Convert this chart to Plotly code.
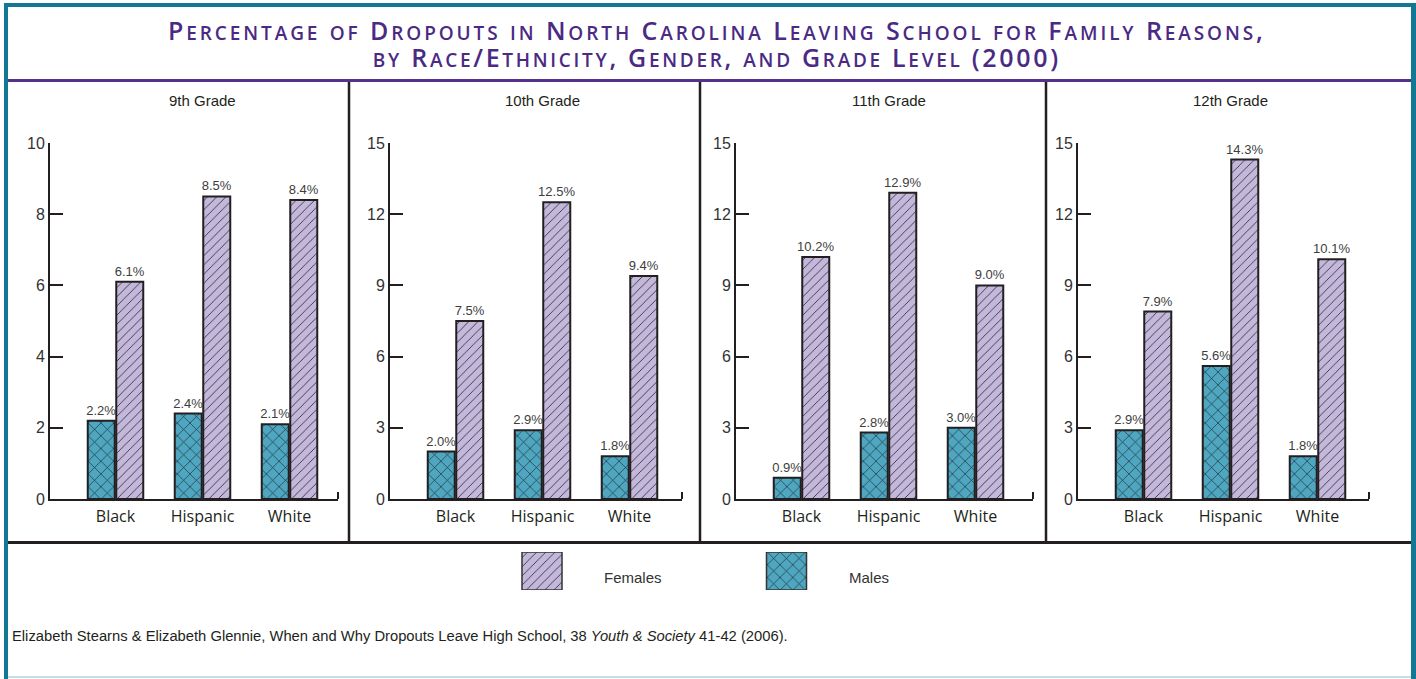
import plotly.graph_objects as go

# ---------------- data ----------------
title_line1 = "Percentage of Dropouts in North Carolina Leaving School for Family Reasons,"
title_line2 = "by Race/Ethnicity, Gender, and Grade Level (2000)"
grades = ["9th Grade", "10th Grade", "11th Grade", "12th Grade"]
groups = ["Black", "Hispanic", "White"]
series_names = ["Males", "Females"]
legend_order = ["Females", "Males"]

males_9th = [2.2, 2.4, 2.1]
females_9th = [6.1, 8.5, 8.4]
males_10th = [2.0, 2.9, 1.8]
females_10th = [7.5, 12.5, 9.4]
males_11th = [0.9, 2.8, 3.0]
females_11th = [10.2, 12.9, 9.0]
males_12th = [2.9, 5.6, 1.8]
females_12th = [7.9, 14.3, 10.1]

y_max = [10, 15, 15, 15]
y_step = [2, 3, 3, 3]

source_note = ("Elizabeth Stearns &amp; Elizabeth Glennie, When and Why Dropouts Leave High School, "
               "38 <i>Youth &amp; Society</i> 41-42 (2006).")

males = [males_9th, males_10th, males_11th, males_12th]
females = [females_9th, females_10th, females_11th, females_12th]

# ---------------- layout constants ----------------
W, H = 1416, 679
def px(x): return x / W
def py(y): return 1 - y / H

axis_left = [50, 390, 736, 1078]
axis_right = [338, 682, 1033, 1369]
unit = 87.0          # px per category
first_off = 65.5     # px from axis start to first category centre
plot_top, plot_bottom = 143, 499

DARK = "#231f20"
TEAL = "#4ea6c0"
LAV = "#c3b8da"
BORDER = "#137893"
PURPLE = "#55308d"

styles = {
    "Males": dict(color=TEAL, pattern=dict(shape="x", bgcolor=TEAL, fgcolor="#1f2a30",
                                           size=9, solidity=0.14, fillmode="replace")),
    "Females": dict(color=LAV, pattern=dict(shape="/", bgcolor=LAV, fgcolor="#3b3448",
                                            size=6.5, solidity=0.14, fillmode="replace")),
}

fig = go.Figure()
layout = dict(
    width=W, height=H, autosize=False,
    margin=dict(l=0, r=0, t=0, b=0, pad=0),
    paper_bgcolor="white", plot_bgcolor="rgba(0,0,0,0)",
    barmode="group", bargap=1 - 57 / unit, bargroupgap=1 - 27 / 28.5,
    showlegend=False,
)

annotations = []
shapes = []

for i, grade in enumerate(grades):
    sfx = "" if i == 0 else str(i + 1)
    xa, ya = "x" + sfx, "y" + sfx
    xs = list(range(len(groups)))
    for name, vals in zip(series_names, [males[i], females[i]]):
        fig.add_trace(go.Bar(
            x=xs, y=vals, name=name, xaxis=xa, yaxis=ya,
            marker=dict(color=styles[name]["color"], pattern=styles[name]["pattern"],
                        line=dict(color=DARK, width=2)),
            texttemplate="%{y:.1f}%", textposition="outside",
            outsidetextfont=dict(family="Liberation Sans", size=13, color="#3d3d3d"),
            constraintext="none", cliponaxis=False, hoverinfo="skip",
        ))
    w = axis_right[i] - axis_left[i]
    r0 = -first_off / unit
    r1 = (w - first_off) / unit
    layout["xaxis" + sfx] = dict(
        domain=[px(axis_left[i]), px(axis_right[i])], range=[r0, r1],
        anchor=ya, showline=True, linecolor=DARK, linewidth=2, automargin=False,
        showgrid=False, zeroline=False, ticks="", ticklabelstandoff=2,
        tickvals=xs, ticktext=groups,
        tickfont=dict(family="Open Sans", size=16, color=DARK),
        minor=dict(tickvals=[r1 - 0.004], ticks="inside", ticklen=7, tickwidth=2, tickcolor=DARK),
        fixedrange=True,
    )
    layout["yaxis" + sfx] = dict(
        domain=[py(plot_bottom), py(plot_top)], range=[0, y_max[i]],
        anchor=xa, showline=True, linecolor=DARK, linewidth=2, automargin=False,
        showgrid=False, zeroline=False,
        tickvals=list(range(0, y_max[i] + 1, y_step[i])),
        ticks="inside", ticklen=13, tickwidth=2, tickcolor=DARK,
        tickfont=dict(family="Liberation Sans", size=16, color="#333333"),
        fixedrange=True,
    )
    annotations.append(dict(
        text=grade, xref=xa, yref="paper", x=1, y=py(100),
        xanchor="center", yanchor="middle", showarrow=False,
        font=dict(family="Liberation Sans", size=15, color=DARK),
    ))

# ---------------- legend (drawn as bars on a hidden axis) ----------------
leg_c0, leg_unit, leg_w = 542, 244.5, 40
leg_l, leg_r = 500, 900
layout["xaxis5"] = dict(domain=[px(leg_l), px(leg_r)],
                        range=[(leg_l - leg_c0) / leg_unit, (leg_r - leg_c0) / leg_unit],
                        visible=False, anchor="y5", fixedrange=True, automargin=False)
layout["yaxis5"] = dict(domain=[py(590), py(552)], range=[0, 1], visible=False,
                        anchor="x5", fixedrange=True, automargin=False)
for j, name in enumerate(legend_order):
    fig.add_trace(go.Bar(
        x=[j], y=[1], xaxis="x5", yaxis="y5", name=name,
        width=leg_w / leg_unit, offset=-leg_w / leg_unit / 2,
        marker=dict(color=styles[name]["color"], pattern=styles[name]["pattern"],
                    line=dict(color="#333333", width=1.5)),
        hoverinfo="skip",
    ))
    annotations.append(dict(
        text=name, xref="x5", yref="paper", x=j, xshift=60, y=py(577),
        xanchor="left", yanchor="middle", showarrow=False,
        font=dict(family="Liberation Sans", size=15, color="#333333"),
    ))

# ---------------- title (small caps, one text block) ----------------
def small_caps(s, big, small, track):
    out, run, cur = [], "", None
    def flush(r, low):
        if not r:
            return ""
        size = small if low else big
        return (f'<span style="font-size:{size}px;letter-spacing:{track}px;'
                f'font-weight:600">{r.upper()}</span>')
    for ch in s:
        low = ch.islower()
        if cur is None:
            cur = low
        if low != cur:
            out.append(flush(run, cur))
            run, cur = "", low
        run += ch
    out.append(flush(run, cur))
    return "".join(out)

annotations.append(dict(
    text=small_caps(title_line1, 25, 19, 2.9) + "<br>" + small_caps(title_line2, 25, 19, 2.7),
    xref="paper", yref="paper", x=px(717), y=py(43), xanchor="center", yanchor="middle",
    align="center", showarrow=False,
    font=dict(family="Open Sans", size=21, color="#4b2a84"),
))

annotations.append(dict(
    text=source_note, xref="paper", yref="paper", x=px(10), y=py(636),
    xanchor="left", yanchor="middle", showarrow=False,
    font=dict(family="Liberation Sans", size=14.75, color=DARK),
))

# ---------------- frame & rules ----------------
def rect(x0, y0, x1, y1, color):
    return dict(type="rect", xref="paper", yref="paper", x0=px(x0), x1=px(x1),
                y0=py(y1), y1=py(y0), fillcolor=color, line=dict(width=0), layer="above")
def hline(y, x0, x1, color, w):
    return dict(type="line", xref="paper", yref="paper", x0=px(x0), x1=px(x1),
                y0=py(y), y1=py(y), line=dict(color=color, width=w))
def vline(x, y0, y1, color, w):
    return dict(type="line", xref="paper", yref="paper", x0=px(x), x1=px(x),
                y0=py(y0), y1=py(y1), line=dict(color=color, width=w))

shapes += [
    rect(4, 3, 8, 679, BORDER),
    rect(4, 3, 1416, 7, BORDER),
    rect(1411, 3, 1416, 679, BORDER),
    rect(8, 676, 1411, 678, "#bfe0ea"),
    hline(80.5, 8, 1411, PURPLE, 3),
    hline(542.5, 8, 1411, DARK, 3),
    vline(349, 82, 542, DARK, 2.5),
    vline(700, 82, 542, DARK, 2.5),
    vline(1046, 82, 542, DARK, 2.5),
]

layout["annotations"] = annotations
layout["shapes"] = shapes
fig.update_layout(**layout)

post = ("document.documentElement.style.margin='0';document.body.style.margin='0';"
        "document.body.style.overflow='hidden';")
fig.write_html("out.html", post_script=post, config={"displayModeBar": False})
